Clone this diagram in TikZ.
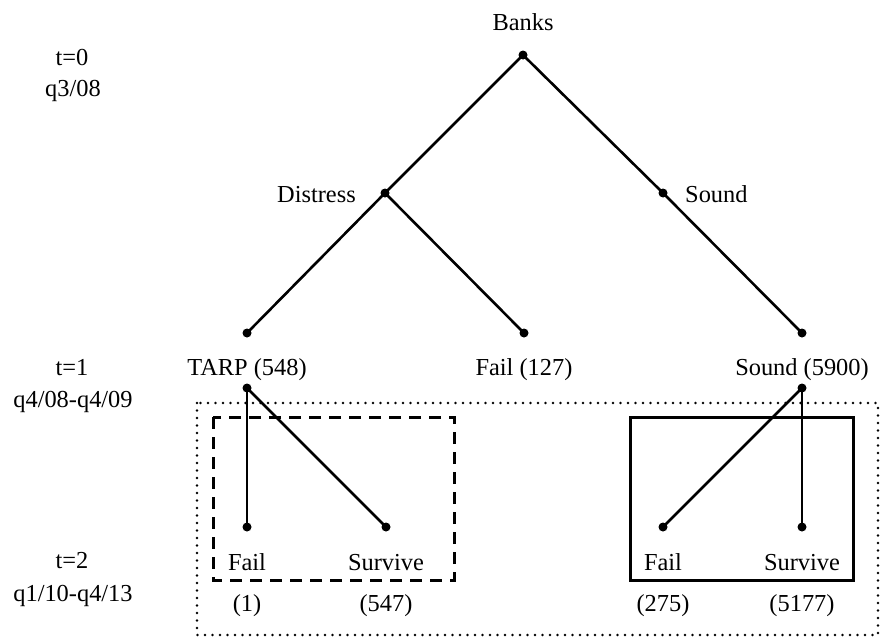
\documentclass[tikz,border=0pt]{standalone}
\usepackage{fontspec}
\setmainfont{Liberation Serif}
\begin{document}
\begin{tikzpicture}[x=1pt,y=-1pt,
  dotn/.style={circle,fill=black,inner sep=0pt,minimum size=9pt},
  lbl/.style={anchor=base,inner sep=0pt,font=\fontsize{24.4}{29}\selectfont},
  edge/.style={line width=2.6pt},
  dottedbox/.style={line width=2.6pt,line cap=round,dash pattern=on 0pt off 7.5pt},
  dashedbox/.style={line width=3pt,dash pattern=on 12pt off 8pt},
  solidbox/.style={line width=3pt}]
\useasboundingbox (0,0) rectangle (880,637);
% boxes
\draw[dottedbox] (197,403) rectangle (878,635);
\draw[dashedbox] (213,417) rectangle (454,580);
\draw[solidbox] (630,417) rectangle (853,580);
% dots
\node[dotn] (banks) at (523,55) {};
\node[dotn] (distress) at (385,193) {};
\node[dotn] (sound) at (663,193) {};
\node[dotn] (l1) at (247,333) {};
\node[dotn] (l2) at (524,333) {};
\node[dotn] (l3) at (802,333) {};
\node[dotn] (tarp) at (247,388) {};
\node[dotn] (snd) at (802,388) {};
\node[dotn] (tf) at (247,527) {};
\node[dotn] (ts) at (386,527) {};
\node[dotn] (sf) at (663,527) {};
\node[dotn] (ss) at (802,527) {};
% edges
\draw[edge] (banks.center) -- (distress.center);
\draw[edge] (banks.center) -- (sound.center);
\draw[edge] (sound.center) -- (l3.center);
\draw[edge] (distress.center) -- (l1.center);
\draw[edge] (distress.center) -- (l2.center);
\draw[edge] (tarp.center) -- (tf.center);
\draw[edge] (tarp.center) -- (ts.center);
\draw[edge] (snd.center) -- (sf.center);
\draw[edge] (snd.center) -- (ss.center);
% labels
\node[lbl] (tbanks) at (523,30) {Banks};
\node[lbl,anchor=base east] (tdistress) at (356,202) {Distress};
\node[lbl,anchor=base west] (tsound) at (685,202) {Sound};
\node[lbl] (ttarp) at (247,375) {TARP (548)};
\node[lbl] (tfail1) at (524,375) {Fail (127)};
\node[lbl] (tsound2) at (802,375) {Sound (5900)};
\node[lbl] (ttf) at (247,570) {Fail};
\node[lbl] (tts) at (386,570) {Survive};
\node[lbl] (tsf) at (663,570) {Fail};
\node[lbl] (tss) at (802,570) {Survive};
\node[lbl] (ntf) at (247,611) {(1)};
\node[lbl] (nts) at (386,611) {(547)};
\node[lbl] (nsf) at (663,611) {(275)};
\node[lbl] (nss) at (802,611) {(5177)};
% time labels
\node[lbl] (t0) at (72,65) {t=0};
\node[lbl] (q0) at (73,96) {q3/08};
\node[lbl] (t1) at (72,375) {t=1};
\node[lbl] (q1) at (73,407) {q4/08-q4/09};
\node[lbl] (t2) at (72,568) {t=2};
\node[lbl] (q2) at (73,601) {q1/10-q4/13};
\end{tikzpicture}
\end{document}
